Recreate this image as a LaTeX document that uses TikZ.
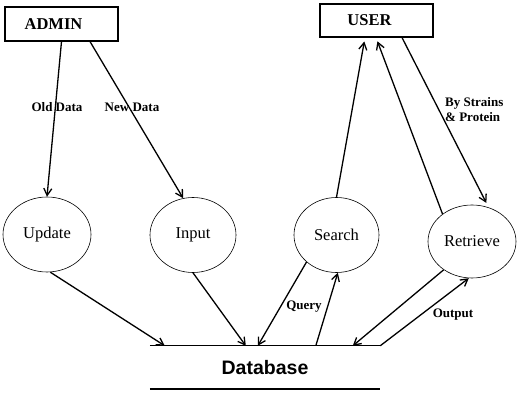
\documentclass[tikz,border=0pt]{standalone}
\usepackage{fontspec}
\setmainfont{Liberation Serif}
\newfontfamily\dbfont{Liberation Sans}
\usetikzlibrary{shapes.geometric,arrows.meta}

\begin{document}
\begin{tikzpicture}[x=1pt, y=-1pt,
  >={Straight Barb[length=7pt,width=8pt]},
  entidad/.style={draw, line width=1.1pt, minimum width=113pt, minimum height=34pt,
    inner sep=0pt, font=\bfseries\fontsize{16.5}{18}\selectfont},
  proceso/.style={draw, ellipse, line width=0.6pt, minimum width=87pt, minimum height=75pt,
    inner sep=0pt, font=\fontsize{16.5}{18}\selectfont},
  etiq/.style={font=\bfseries\fontsize{13}{15}\selectfont, inner sep=1pt},
  flujo/.style={->, line width=1.3pt}]

\useasboundingbox (0,0) rectangle (520,395);

% === ENTIDADES ===
\node[entidad] (admin) at (61.5,24) {ADMIN\hspace*{16pt}};
\node[entidad, minimum height=33pt] (user) at (376.5,20.5) {USER\hspace*{14pt}};

% === PROCESOS ===
\node[proceso, minimum width=88pt] (update) at (47,234.5) {Update};
\node[proceso, minimum width=86pt] (input) at (193,235) {Input};
\node[proceso, minimum width=85pt] (search) at (336.5,235) {Search};
\node[proceso, minimum width=88pt, minimum height=73pt] (retrieve) at (472,241.5) {Retrieve};

% === ALMACEN ===
\node[minimum width=230pt, minimum height=43pt, inner sep=0pt,
  font=\dbfont\bfseries\fontsize{19.5}{22}\selectfont] (db) at (265,367.5) {Database};
\draw[line width=1.4pt] (db.north west) -- (db.north east);
\draw[line width=1.4pt] (db.south west) -- (db.south east);

% === FLUJOS ===
\draw[flujo] (admin.south) -- (update.north);
\draw[flujo] ([xshift=28.5pt]admin.south) -- (input.105);
\draw[flujo] (update.-85) -- ([xshift=15pt]db.north west);
\draw[flujo] (input.south) -- ([xshift=96pt]db.north west);
\draw[flujo] (search.-138) -- ([xshift=108pt]db.north west);
\draw[flujo] ([xshift=166pt]db.north west) -- (search.-88);
\draw[flujo] (retrieve.-135) -- ([xshift=203pt]db.north west);
\draw[flujo] (db.north east) -- (retrieve.-95);
\draw[flujo, shorten >=4pt] (search.north) -- ([xshift=-11.5pt]user.south);
\draw[flujo, shorten >=4pt] (retrieve.137) -- ([xshift=-0.5pt]user.south);
\draw[flujo, shorten >=5pt] ([xshift=25.5pt]user.south) -- (retrieve.64);

% === TEXTOS ===
\node[etiq] (lblold) at (57,107) {Old Data};
\node[etiq] (lblnew) at (132,107) {New Data};
\node[etiq, align=left, anchor=west] (lblby) at (444,110) {By Strains\\\& Protein};
\node[etiq] (lblquery) at (304,307) {Query};
\node[etiq] (lblout) at (453,315) {Output};

\end{tikzpicture}
\end{document}
